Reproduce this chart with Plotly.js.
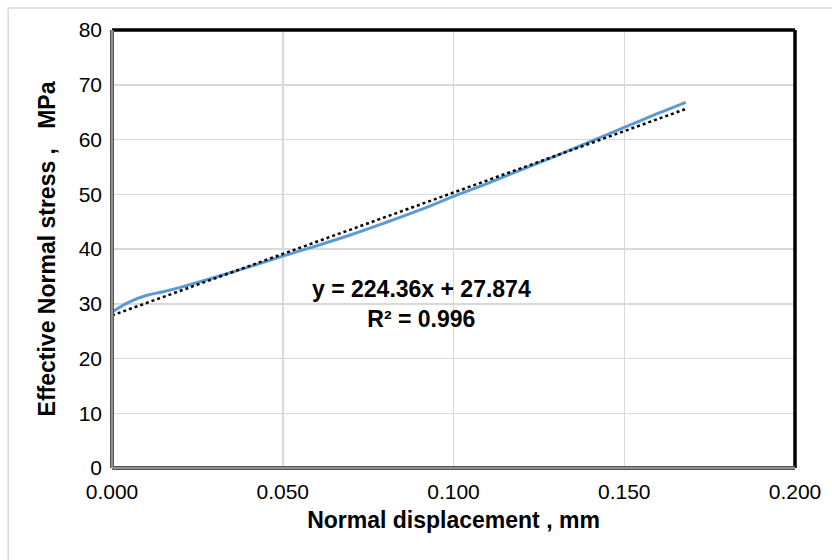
<!DOCTYPE html>
<html>
<head>
<meta charset="utf-8">
<script src="https://cdn.plot.ly/plotly-3.0.1.min.js"></script>
<style>html,body{margin:0;padding:0;background:#fff;}#chart{width:832px;height:560px;}</style>
</head>
<body>
<div id="chart"></div>
<script>
// Measured series: normal displacement (mm) vs effective normal stress (MPa)
var displacement = [0, 0.005, 0.010, 0.015, 0.020, 0.030, 0.040, 0.050, 0.060, 0.070, 0.080, 0.090, 0.100, 0.110, 0.120, 0.130, 0.140, 0.150, 0.160, 0.168];
var stress       = [28.5, 30.3, 31.5, 32.2, 33.0, 34.8, 36.7, 38.7, 40.6, 42.6, 44.8, 47.1, 49.6, 52.0, 54.5, 57.0, 59.6, 62.2, 64.8, 66.8];
// Linear trendline endpoints (y = 224.36x + 27.874)
var trendX = [0, 0.168];
var trendY = [27.874, 65.57];
var equationText = "y = 224.36x + 27.874";
var r2Text = "R\u00b2 = 0.996";
var xTicks = [0, 0.05, 0.10, 0.15, 0.20];
var xTickLabels = ["0.000", "0.050", "0.100", "0.150", "0.200"];
var yTicks = [0, 10, 20, 30, 40, 50, 60, 70, 80];

var FONT = "Liberation Sans, Arial, sans-serif";

var traces = [
  {x: displacement, y: stress, type: "scatter", mode: "lines",
   line: {color: "#5b9bd5", width: 3, shape: "spline"}, showlegend: false, hoverinfo: "skip"},
  {x: trendX, y: trendY, type: "scatter", mode: "lines",
   line: {color: "#000000", width: 2.5, dash: "dot"}, showlegend: false, hoverinfo: "skip"}
];

var layout = {
  width: 832, height: 560,
  margin: {l: 112, r: 37, t: 30, b: 92},
  paper_bgcolor: "#ffffff", plot_bgcolor: "#ffffff",
  showlegend: false,
  font: {family: FONT, color: "#000"},
  xaxis: {
    range: [0, 0.2], tickvals: xTicks, ticktext: xTickLabels,
    showgrid: true, gridcolor: "#d9d9d9", gridwidth: 1.5,
    zeroline: false, showline: false, ticks: "",
    tickfont: {family: FONT, size: 21, color: "#000"},
    ticklabelstandoff: 9,
    title: {text: "Normal displacement , mm", font: {family: FONT, size: 23, weight: "bold", color: "#000"}, standoff: 9}
  },
  yaxis: {
    range: [0, 80], tickvals: yTicks,
    showgrid: true, gridcolor: "#d9d9d9", gridwidth: 1.5,
    zeroline: false, showline: false, ticks: "",
    tickfont: {family: FONT, size: 21, color: "#000"},
    ticklabelstandoff: 9,
    title: {text: "Effective Normal stress ,\u00a0\u00a0\u00a0MPa", font: {family: FONT, size: 23, weight: "bold", color: "#000"}, standoff: 16}
  },
  annotations: [{
    x: 0.0905, y: 30.0, xref: "x", yref: "y",
    text: equationText + "<br>" + r2Text,
    showarrow: false, align: "center",
    font: {family: FONT, size: 23, weight: "bold", color: "#000"}
  }],
  shapes: [
    // outer light border
    {type: "rect", xref: "paper", yref: "paper", x0: -0.152, x1: 1.06, y0: -0.22, y1: 1.05,
     line: {color: "#d9d9d9", width: 1.5}, fillcolor: "rgba(0,0,0,0)", layer: "below"},
    // top & right frame (black)
    {type: "line", xref: "paper", yref: "paper", x0: 0, x1: 1, y0: 1, y1: 1, line: {color: "#000", width: 3.5}},
    {type: "line", xref: "paper", yref: "paper", x0: 1, x1: 1, y0: 0, y1: 1, line: {color: "#000", width: 3.5}},
    // left & bottom frame (double gray)
    {type: "line", xref: "paper", yref: "paper", x0: 0, x1: 0, y0: 0, y1: 1, line: {color: "#555555", width: 4}},
    {type: "line", xref: "paper", yref: "paper", x0: 0, x1: 1, y0: 0, y1: 0, line: {color: "#555555", width: 4}},
    {type: "line", xref: "paper", yref: "paper", x0: 0, x1: 0, y0: 0, y1: 1, line: {color: "#cccccc", width: 1}},
    {type: "line", xref: "paper", yref: "paper", x0: 0, x1: 1, y0: 0, y1: 0, line: {color: "#cccccc", width: 1}}
  ]
};

Plotly.newPlot("chart", traces, layout, {staticPlot: true, displayModeBar: false});
</script>
</body>
</html>
